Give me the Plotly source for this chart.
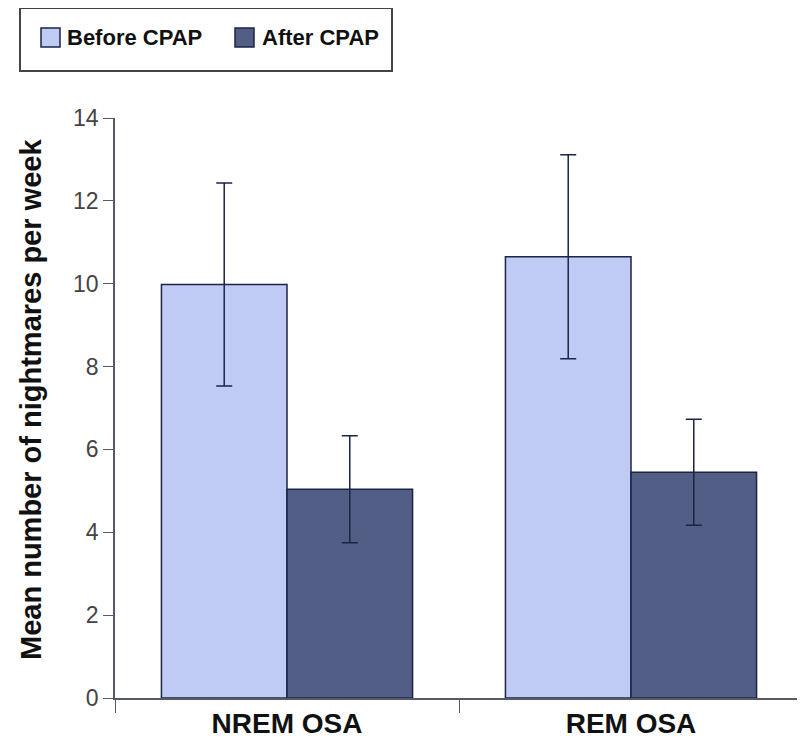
import plotly.graph_objects as go

categories = ["NREM OSA", "REM OSA"]
series_names = ["Before CPAP", "After CPAP"]
before_cpap = [9.98, 10.65]
before_err = [2.45, 2.46]
after_cpap = [5.04, 5.45]
after_err = [1.29, 1.28]
y_ticks = [0, 2, 4, 6, 8, 10, 12, 14]
y_title = "Mean number of nightmares per week"

FONT = "Liberation Sans, Arial, sans-serif"
outline = "#1c2444"
col_before = "#bfcbf4"
col_after = "#535e87"

# page geometry of plot area (for placing decorations outside the plot)
PL, PR, PT, PB = 115, 803, 118, 698


def px(x):
    return (x - PL) / (PR - PL)


def py(y):
    return (PB - y) / (PB - PT)


fig = go.Figure()
fig.add_trace(go.Bar(
    name=series_names[0], x=categories, y=before_cpap, showlegend=False,
    marker=dict(color=col_before, line=dict(color=outline, width=1.5)),
    error_y=dict(type="data", array=before_err, color=outline, thickness=1.5, width=8),
))
fig.add_trace(go.Bar(
    name=series_names[1], x=categories, y=after_cpap, showlegend=False,
    marker=dict(color=col_after, line=dict(color=outline, width=1.5)),
    error_y=dict(type="data", array=after_err, color=outline, thickness=1.5, width=8),
))

# legend box drawn as decoration
shapes = [
    dict(type="rect", xref="paper", yref="paper", x0=px(20), x1=px(392), y0=py(71), y1=py(8),
         line=dict(color="#444444", width=2), fillcolor="white", layer="above"),
    dict(type="rect", xref="paper", yref="paper", x0=px(41), x1=px(60), y0=py(47), y1=py(28),
         line=dict(color=outline, width=1.5), fillcolor=col_before, layer="above"),
    dict(type="rect", xref="paper", yref="paper", x0=px(235), x1=px(254), y0=py(47), y1=py(28),
         line=dict(color=outline, width=1.5), fillcolor=col_after, layer="above"),
]
annotations = [
    dict(text=f"<b>{series_names[0]}</b>", xref="paper", yref="paper", x=px(65), y=py(38),
         xanchor="left", yanchor="middle", showarrow=False,
         font=dict(family=FONT, size=22, color="#111111")),
    dict(text=f"<b>{series_names[1]}</b>", xref="paper", yref="paper", x=px(260), y=py(38),
         xanchor="left", yanchor="middle", showarrow=False,
         font=dict(family=FONT, size=22, color="#111111")),
    dict(text=f"<b>{y_title}</b>", xref="paper", yref="paper", x=px(31), y=py(400),
         xanchor="center", yanchor="middle", textangle=-90, showarrow=False,
         font=dict(family=FONT, size=29, color="#111111")),
]

fig.update_layout(
    width=797, height=740,
    margin=dict(l=107, r=2, t=110, b=50),
    plot_bgcolor="white", paper_bgcolor="white",
    barmode="group", bargap=0.27, bargroupgap=0,
    showlegend=False,
    shapes=shapes, annotations=annotations,
    xaxis=dict(
        showline=True, linecolor="#555a66", linewidth=1.5,
        ticks="outside", tickson="boundaries", ticklen=13, tickcolor="#555a66",
        tickfont=dict(family=FONT, size=28, color="#111111", weight="bold"),
        showgrid=False,
    ),
    yaxis=dict(
        range=[0, 14], tickvals=y_ticks,
        showline=True, linecolor="#555a66", linewidth=1.5,
        ticks="outside", ticklen=10, tickcolor="#555a66",
        tickfont=dict(family=FONT, size=23, color="#444444"),
        showgrid=False, zeroline=False,
    ),
)

fig.write_html("out.html")
